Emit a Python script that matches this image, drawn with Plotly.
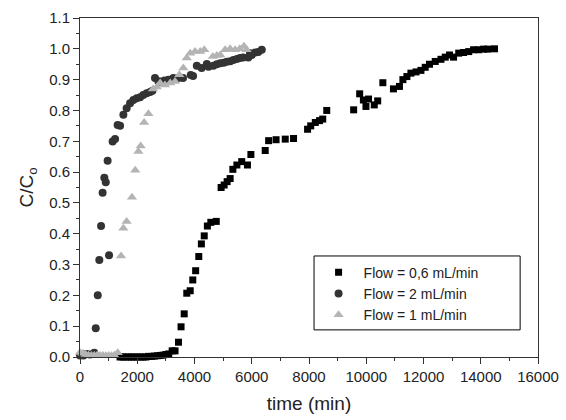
import plotly.graph_objects as go

# Flow = 0,6 mL/min (squares)
t_06 = [1400, 1500, 1600, 1700, 1800, 1900, 2000, 2100, 2200, 2300, 2400, 2500, 2600,
        2700, 2800, 2900, 3000, 3100, 3220, 3320, 3440, 3530, 3640, 3730, 3850, 3940,
        4040, 4150, 4240, 4340, 4450, 4570, 4760, 4930, 5035, 5140, 5245, 5340, 5480,
        5650, 5850, 5970, 6470, 6590, 6850, 7170, 7460, 7950, 8060, 8220, 8370, 8480,
        8620, 9560, 9770, 9900, 9990, 10080, 10280, 10400, 10580, 10950, 11160, 11280,
        11420, 11560, 11740, 11910, 12060, 12210, 12410, 12610, 12760, 12910, 13050,
        13230, 13400, 13580, 13750, 13930, 14100, 14240, 14480]
c_06 = [0.0, 0.0, 0.0, 0.0, 0.0, 0.0, 0.0, 0.0, 0.0, 0.0, 0.002, 0.002, 0.003,
        0.004, 0.005, 0.006, 0.008, 0.01, 0.02, 0.02, 0.048, 0.098, 0.14, 0.207, 0.215, 0.25,
        0.28, 0.326, 0.367, 0.393, 0.425, 0.437, 0.44, 0.55, 0.558, 0.569, 0.579, 0.609, 0.623,
        0.634, 0.623, 0.657, 0.67, 0.702, 0.705, 0.707, 0.709, 0.739, 0.75, 0.761, 0.767, 0.772,
        0.80, 0.802, 0.854, 0.834, 0.813, 0.837, 0.818, 0.831, 0.89, 0.87, 0.878, 0.90,
        0.91, 0.921, 0.925, 0.93, 0.94, 0.95, 0.959, 0.966, 0.973, 0.98, 0.973,
        0.986, 0.988, 0.991, 0.997, 0.997, 0.999, 0.999, 1.0]

# Flow = 2 mL/min (circles)
t_2 = [0, 120, 230, 350, 500, 550, 620, 675, 735, 790, 850, 900, 965, 1015, 1140, 1225,
       1315, 1400, 1515, 1630, 1750, 1865, 1980, 2100, 2210, 2330, 2450, 2530, 2620, 2740,
       2800, 2950, 3090, 3260, 3440, 3600, 3870, 3950, 4080, 4250, 4430, 4490, 4660, 4780,
       4900, 5020, 5130, 5250, 5360, 5480, 5590, 5700, 5880, 5940, 6000, 6120, 6230, 6350]
c_2 = [0.005, 0.005, 0.01, 0.008, 0.014, 0.093, 0.2, 0.315, 0.425, 0.533, 0.582, 0.567,
       0.637, 0.33, 0.699, 0.707, 0.753, 0.75, 0.786, 0.807, 0.823, 0.834, 0.84, 0.843,
       0.85, 0.856, 0.86, 0.864, 0.905, 0.894, 0.894, 0.897, 0.90, 0.905, 0.905, 0.905,
       0.915, 0.912, 0.945, 0.938, 0.951, 0.942, 0.945, 0.95, 0.953, 0.955, 0.958, 0.96,
       0.964, 0.967, 0.97, 0.972, 0.972, 0.986, 0.98, 0.988, 0.99, 0.997]

# Flow = 1 mL/min (triangles)
t_1 = [0, 100, 200, 300, 400, 500, 600, 700, 800, 900, 1000, 1100, 1200, 1320, 1435,
       1515, 1630, 1815, 1930, 2040, 2120, 2240, 2390, 2550, 2680, 2800, 2970, 3150,
       3320, 3470, 3610, 3730, 3850, 4020, 4200, 4340, 4640, 4780, 4900, 5070, 5245,
       5420, 5580, 5730, 5820]
c_1 = [0.015, 0.012, 0.008, 0.006, 0.005, 0.005, 0.006, 0.005, 0.005, 0.004, 0.005,
       0.004, 0.006, 0.014, 0.328, 0.418, 0.44, 0.518, 0.606, 0.667, 0.685, 0.761, 0.789,
       0.87, 0.876, 0.889, 0.883, 0.889, 0.894, 0.916, 0.938, 0.97, 0.986, 0.991, 0.991,
       0.997, 0.975, 0.978, 0.98, 0.997, 1.0, 0.997, 1.0, 1.008, 0.997]

fig = go.Figure()
fig.add_trace(go.Scatter(x=t_06, y=c_06, mode="markers", name="Flow = 0,6 mL/min",
                         marker=dict(symbol="square", size=7, color="#000000"), cliponaxis=False))
fig.add_trace(go.Scatter(x=t_2, y=c_2, mode="markers", name="Flow = 2 mL/min",
                         marker=dict(symbol="circle", size=8, color="#333333"), cliponaxis=False))
fig.add_trace(go.Scatter(x=t_1, y=c_1, mode="markers", name="Flow = 1 mL/min",
                         marker=dict(symbol="triangle-up", size=9, color="#b4b4b4"), cliponaxis=False))

axis_common = dict(showline=True, linecolor="#333333", linewidth=1, mirror=True,
                   ticks="outside", ticklen=6, tickcolor="#333333", showgrid=False,
                   zeroline=False, automargin=False, tickfont=dict(size=15, color="#222222"))

fig.update_xaxes(range=[0, 16000], dtick=2000, tick0=0, tickformat="d",
                 minor=dict(dtick=1000, ticks="outside", ticklen=3, tickcolor="#333333"),
                 title=dict(text="time (min)", font=dict(size=19, color="#222222"), standoff=12),
                 **axis_common)
fig.update_yaxes(range=[0, 1.1], dtick=0.1, tick0=0, tickformat=".1f",
                 minor=dict(dtick=0.05, ticks="outside", ticklen=3, tickcolor="#333333"),
                 title=dict(text="C/C<sub>o</sub>", font=dict(size=19, color="#222222"), standoff=10),
                 **axis_common)

# legend frame (drawn as a shape so it can be padded like the original)
fig.add_shape(type="rect", xref="paper", yref="paper", x0=0.511, x1=0.961, y0=0.080, y1=0.298,
              line=dict(color="#000000", width=1), fillcolor="white", layer="below")

fig.update_layout(
    width=566, height=420,
    margin=dict(l=80, r=28, t=18, b=63),
    paper_bgcolor="white", plot_bgcolor="rgba(0,0,0,0)",
    font=dict(family="Liberation Sans, Arial, sans-serif", color="#222222"),
    legend=dict(x=0.510, y=0.296, xanchor="left", yanchor="top",
                borderwidth=0, bgcolor="rgba(0,0,0,0)",
                font=dict(size=14), itemwidth=40, tracegroupgap=0),
)

fig.write_html("out.html", config={"displayModeBar": False},
               post_script="document.body.style.margin='0';")
